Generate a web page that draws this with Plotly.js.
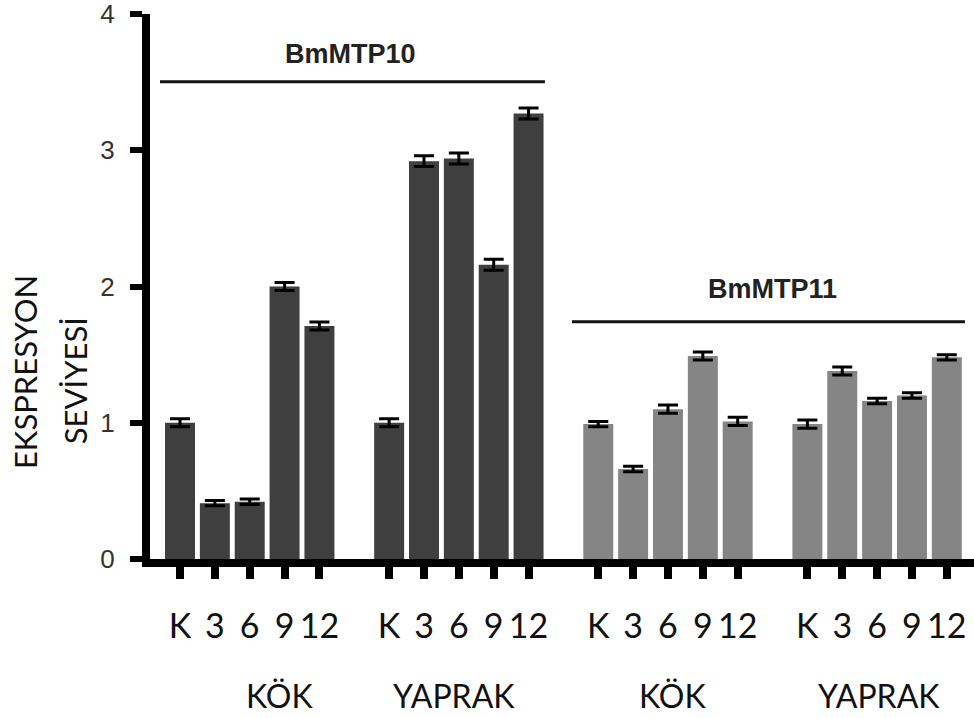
<!DOCTYPE html>
<html>
<head>
<meta charset="utf-8">
<script src="https://cdn.plot.ly/plotly-3.0.1.min.js"></script>
<style>html,body{margin:0;padding:0;background:#fff;}#chart{width:974px;height:718px;}</style>
</head>
<body>
<div id="chart"></div>
<script>
// ---- data ----
const categories = ["K", "3", "6", "9", "12"];
const groupLabels = ["KÖK", "YAPRAK", "KÖK", "YAPRAK"];
const genes = ["BmMTP10", "BmMTP11"];
const mtp10Kok = [1.00, 0.41, 0.42, 2.00, 1.71];
const mtp10KokErr = [0.03, 0.02, 0.02, 0.03, 0.03];
const mtp10Yaprak = [1.00, 2.92, 2.94, 2.16, 3.27];
const mtp10YaprakErr = [0.03, 0.04, 0.04, 0.04, 0.04];
const mtp11Kok = [0.99, 0.66, 1.10, 1.49, 1.01];
const mtp11KokErr = [0.02, 0.02, 0.03, 0.03, 0.03];
const mtp11Yaprak = [0.99, 1.38, 1.16, 1.20, 1.48];
const mtp11YaprakErr = [0.03, 0.03, 0.02, 0.02, 0.02];
const yTicks = [0, 1, 2, 3, 4];
const yTitle = ["EKSPRESYON", "SEVİYESİ"];

// ---- build ----
const groups = [
  {y: mtp10Kok, e: mtp10KokErr, color: "#3f3f3f"},
  {y: mtp10Yaprak, e: mtp10YaprakErr, color: "#3f3f3f"},
  {y: mtp11Kok, e: mtp11KokErr, color: "#858585"},
  {y: mtp11Yaprak, e: mtp11YaprakErr, color: "#858585"}
];
const traces = [];
const tickvals = [], ticktext = [];
groups.forEach((g, gi) => {
  const xs = categories.map((c, i) => gi * 6 + i);
  xs.forEach((x, i) => { tickvals.push(x); ticktext.push(categories[i]); });
  traces.push({
    type: "bar",
    x: xs,
    y: g.y,
    width: 0.86,
    marker: {color: g.color, line: {width: 0}},
    error_y: {type: "data", array: g.e, visible: true, color: "#000", thickness: 3, width: 10},
    hoverinfo: "y",
    showlegend: false
  });
});

const groupCenters = [2.84, 7.86, 14.14, 20.05];
const annotations = groupLabels.map((t, i) => ({
  text: t, x: groupCenters[i], xref: "x", y: -0.251, yref: "paper",
  showarrow: false, xanchor: "center", yanchor: "middle",
  font: {family: "Lato, 'Open Sans', sans-serif", size: 32, color: "#111"}
}));
annotations.push({
  text: "<b>" + genes[0] + "</b>", x: 4.88, xref: "x", y: 3.71, yref: "y",
  showarrow: false, xanchor: "center", yanchor: "middle",
  font: {family: "Liberation Sans, Arial, sans-serif", size: 27, color: "#222"}
});
annotations.push({
  text: "<b>" + genes[1] + "</b>", x: 17.01, xref: "x", y: 1.985, yref: "y",
  showarrow: false, xanchor: "center", yanchor: "middle",
  font: {family: "Liberation Sans, Arial, sans-serif", size: 27, color: "#222"}
});
annotations.push({
  text: yTitle[0], x: -0.1517, xref: "paper", y: 0.343, yref: "paper", textangle: -90,
  showarrow: false, xanchor: "center", yanchor: "middle",
  font: {family: "Lato, 'Open Sans', sans-serif", size: 31, color: "#111"}
});
annotations.push({
  text: yTitle[1], x: -0.0917, xref: "paper", y: 0.327, yref: "paper", textangle: -90,
  showarrow: false, xanchor: "center", yanchor: "middle",
  font: {family: "Lato, 'Open Sans', sans-serif", size: 31, color: "#111"}
});

const shapes = [
  {type: "line", xref: "x", yref: "y", x0: -0.574, x1: 10.47, y0: 3.503, y1: 3.503, line: {color: "#111", width: 3}},
  {type: "line", xref: "x", yref: "y", x0: 11.245, x1: 22.52, y0: 1.742, y1: 1.742, line: {color: "#111", width: 3}}
];

const layout = {
  width: 974, height: 718,
  margin: {l: 150, r: 0, t: 14, b: 159},
  paper_bgcolor: "#fff", plot_bgcolor: "#fff",
  barmode: "overlay",
  showlegend: false,
  xaxis: {
    range: [-0.861, 22.78], showgrid: false, zeroline: false,
    showline: true, linecolor: "#000", linewidth: 8,
    tickmode: "array", tickvals: tickvals, ticktext: ticktext,
    ticks: "outside", ticklen: 12, tickwidth: 8, tickcolor: "#000",
    tickangle: 0, ticklabelstandoff: 18,
    tickfont: {family: "Lato, 'Open Sans', sans-serif", size: 34, color: "#111"}
  },
  yaxis: {
    range: [0, 4], showgrid: false, zeroline: false,
    showline: true, linecolor: "#000", linewidth: 8,
    tickmode: "array", tickvals: yTicks,
    ticks: "outside", ticklen: 12, tickwidth: 6, tickcolor: "#000",
    ticklabelstandoff: 10, ticklabeloverflow: "allow",
    tickfont: {family: "Liberation Sans, Arial, sans-serif", size: 26, color: "#333"}
  },
  annotations: annotations,
  shapes: shapes
};

Plotly.newPlot("chart", traces, layout, {displayModeBar: false, staticPlot: true});
</script>
</body>
</html>
